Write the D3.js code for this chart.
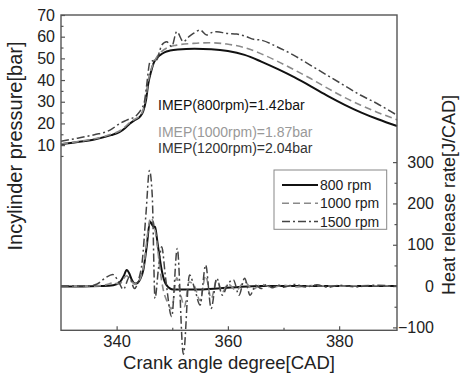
<!DOCTYPE html>
<html>
<head>
<meta charset="utf-8">
<script src="https://cdn.jsdelivr.net/npm/d3@7"></script>
<style>
  body { margin: 0; background: #fff; }
  svg { display: block; font-family: "Liberation Sans", Arial, sans-serif; }
</style>
</head>
<body>
<svg width="460" height="376"></svg>
<script>
// cylinder pressure [CAD, bar]
var p800 = [[330,10.4],[333,11.4],[336,12.6],[339,14.6],[340.5,16],[341.5,17.8],[342.4,20],[343.3,21.6],[344.2,23.1],[344.8,25.8],[345.3,31],[345.7,38.5],[346.2,44],[346.6,47.5],[347.2,50],[347.8,51.5],[348.6,52.8],[349.6,53.6],[351,54.1],[354,54.4],[357,54.2],[360,53.4],[363,51.6],[366,48.5],[369,45],[372,41.2],[375,37],[378,32.6],[381,28.6],[384,25],[387,21.9],[390.4,18.8]];
var p1000 = [[330,10.6],[333,11.6],[336,12.9],[339,15],[340.5,16.5],[341.5,18.4],[342.4,20.5],[343.3,22],[344.2,23.6],[344.8,26.5],[345.3,33],[345.8,41],[346.5,47],[347.2,50.5],[348,53],[349,54.8],[350.8,56.1],[353.8,56.9],[356.8,57.2],[359.8,56.6],[362.8,55.1],[365.8,52.3],[368.8,48.8],[371.8,44.9],[374.8,40.8],[377.8,36.4],[380.8,32.2],[383.8,28.5],[386.8,25.2],[390.4,21.7]];
var p1500 = [[330,11.8],[333,13.2],[336,14.8],[338.8,16.9],[340.6,20],[341.8,21.5],[343.6,23.8],[344.5,26.9],[345,30],[345.4,37.7],[346,48.4],[346.6,49],[347.2,49.2],[347.7,53],[348.1,56.1],[349,57.7],[349.9,55.4],[350.8,62.3],[352,57.7],[353,60],[353.8,61.5],[355,63.1],[356.2,60.8],[357.2,62],[358,62.3],[359.8,61.5],[361.6,61.2],[363.4,60],[364.6,58.8],[365.8,58.5],[368.8,55.4],[371.8,51.5],[374.8,46.9],[377.8,42.3],[380.8,37.7],[383.8,33.1],[386.8,29.2],[390.4,23.8]];

// heat release rate [CAD, J/CAD]
var h800 = [[330,-1],[334,-1],[337,0],[339.4,2],[340.6,10],[341.3,25],[341.8,39],[342.3,30],[342.7,16],[343.3,6],[343.8,8],[344.2,16],[344.8,39],[345.4,95],[346,156],[346.5,146],[346.9,143],[347.4,100],[348.1,39],[348.6,12],[349,2],[350.2,-8],[355,-8],[358.6,-5],[362,-2],[366,0],[390.4,0]];
var h1000 = [[330,0],[336,0],[338,3],[339.5,8],[340.5,5],[341.8,25],[342.7,10],[343.5,5],[344.3,20],[345,60],[345.6,130],[346.1,165],[346.7,150],[347.2,110],[347.8,40],[348.4,-10],[349,-35],[349.9,-55],[350.8,20],[351.5,-20],[352.2,-50],[353,10],[354,0],[355,-35],[356,25],[357,-30],[358,15],[359,-15],[360,5],[361.5,-10],[363,10],[364.5,-8],[366,4],[368,-3],[370,2],[372,-2],[375,1],[380,0],[385,1],[390.4,0]];
var h1500 = [[330,0],[335,0],[336.5,5],[338,20],[339.3,28],[340.3,12],[341.2,-8],[342.3,22],[343.2,-6],[344,18],[344.6,60],[345.3,180],[345.9,280],[346.4,220],[346.9,-30],[347.5,40],[348.1,95],[348.8,20],[349.9,-74],[350.9,91],[352,-165],[353.1,27],[354.1,-10],[355,-46],[356,51],[357,-54],[358,19],[359,-22],[360,5],[361,15],[362,-22],[363,19],[364,-22],[365,2],[366,-6],[367,4],[368,-4],[369,3],[370,-3],[372,4],[374,-2],[376,3],[378,-3],[380,2],[383,-2],[386,2],[390.4,0]];

var legendLabels = ["800 rpm", "1000 rpm", "1500 rpm"];
var imepLabels = ["IMEP(800rpm)=1.42bar", "IMEP(1000rpm)=1.87bar", "IMEP(1200rpm)=2.04bar"];
var xTicks = [340, 360, 380], xMinor = [350, 370];
var pTicks = [10, 20, 30, 40, 50, 60, 70], pMinor = [5, 15, 25, 35, 45, 55, 65];
var hTicks = [-100, 0, 100, 200, 300], hMinor = [-50, 50, 150, 250];

var svg = d3.select("svg");

var x = d3.scaleLinear().domain([330, 390.4]).range([61, 397]);
var yp = d3.scaleLinear().domain([-75.4, 70]).range([330.3, 15]);
var yh = d3.scaleLinear().domain([-107, 656]).range([330.3, 15]);

var styles = [
    {stroke: "#111", width: 2, dash: null},
    {stroke: "#8a8a8a", width: 1.6, dash: "7,4"},
    {stroke: "#444", width: 1.5, dash: "8,3,2,3"}
];

function lineP(d) { return d3.line().x(function(p) { return x(p[0]); }).y(function(p) { return yp(p[1]); }).curve(d3.curveMonotoneX)(d); }
function lineH(d) { return d3.line().x(function(p) { return x(p[0]); }).y(function(p) { return yh(p[1]); }).curve(d3.curveMonotoneX)(d); }

// axes
function styleAxis(g, size) {
    g.select(".domain").remove();
    g.selectAll("line").attr("stroke", "#555").attr("stroke-width", 1.2);
    g.selectAll("text").attr("fill", "#222").attr("font-size", size);
}

svg.append("g").attr("transform", "translate(61,0)")
    .call(d3.axisLeft(yp).tickValues(pTicks).tickSize(-4).tickPadding(6).tickFormat(d3.format("d")))
    .call(styleAxis, 16);
svg.append("g").attr("transform", "translate(61,0)")
    .call(d3.axisLeft(yp).tickValues(pMinor).tickSize(-2.5).tickFormat(""))
    .call(styleAxis, 16);

var rAx = svg.append("g").attr("transform", "translate(397,0)")
    .call(d3.axisRight(yh).tickValues(hTicks).tickSize(-4).tickFormat(d3.format("d")))
    .call(styleAxis, 16);
rAx.selectAll("text").attr("text-anchor", "end").attr("x", 37);
svg.append("g").attr("transform", "translate(397,0)")
    .call(d3.axisRight(yh).tickValues(hMinor).tickSize(-2.5).tickFormat(""))
    .call(styleAxis, 16);

svg.append("g").attr("transform", "translate(0,330.3)")
    .call(d3.axisBottom(x).tickValues(xTicks).tickSize(-4).tickPadding(5).tickFormat(d3.format("d")))
    .call(styleAxis, 16.5);
svg.append("g").attr("transform", "translate(0,330.3)")
    .call(d3.axisBottom(x).tickValues(xMinor).tickSize(-2.5).tickFormat(""))
    .call(styleAxis, 16.5);

// curves
[h800, h1000, h1500].forEach(function(d, i) {
    svg.append("path").attr("d", lineH(d)).attr("fill", "none")
        .attr("stroke", styles[i].stroke).attr("stroke-width", styles[i].width)
        .attr("stroke-dasharray", styles[i].dash);
});
[p800, p1000, p1500].forEach(function(d, i) {
    svg.append("path").attr("d", lineP(d)).attr("fill", "none")
        .attr("stroke", styles[i].stroke).attr("stroke-width", styles[i].width)
        .attr("stroke-dasharray", styles[i].dash);
});

// frame
svg.append("rect").attr("x", 61).attr("y", 15).attr("width", 336).attr("height", 315.3)
    .attr("fill", "none").attr("stroke", "#555").attr("stroke-width", 1.4);

// IMEP notes
var imepColors = ["#111", "#999", "#333"];
var imepY = [109.5, 136.5, 152.5];
imepLabels.forEach(function(t, i) {
    svg.append("text").attr("x", 158).attr("y", imepY[i]).attr("font-size", 14)
        .attr("fill", imepColors[i]).text(t);
});

// legend
var leg = svg.append("g");
leg.append("rect").attr("x", 274).attr("y", 170).attr("width", 112.7).attr("height", 59.3)
    .attr("fill", "#fff").attr("stroke", "#888").attr("stroke-width", 1);
legendLabels.forEach(function(t, i) {
    var cy = 185 + i * 18.3;
    leg.append("line").attr("x1", 282).attr("x2", 318).attr("y1", cy).attr("y2", cy)
        .attr("stroke", styles[i].stroke).attr("stroke-width", styles[i].width)
        .attr("stroke-dasharray", styles[i].dash);
    leg.append("text").attr("x", 320).attr("y", cy + 5).attr("font-size", 14)
        .attr("fill", "#222").text(t);
});

// axis titles
svg.append("text").attr("x", 229).attr("y", 368.5).attr("text-anchor", "middle")
    .attr("font-size", 18.5).attr("fill", "#222").text("Crank angle degree[CAD]");
svg.append("text").attr("transform", "translate(22,146) rotate(-90)").attr("text-anchor", "middle")
    .attr("font-size", 20).attr("fill", "#222").text("Incylinder pressure[bar]");
svg.append("text").attr("transform", "translate(455,195) rotate(-90)").attr("text-anchor", "middle")
    .attr("font-size", 18).attr("fill", "#222").text("Heat release rate[J/CAD]");
</script>
</body>
</html>
